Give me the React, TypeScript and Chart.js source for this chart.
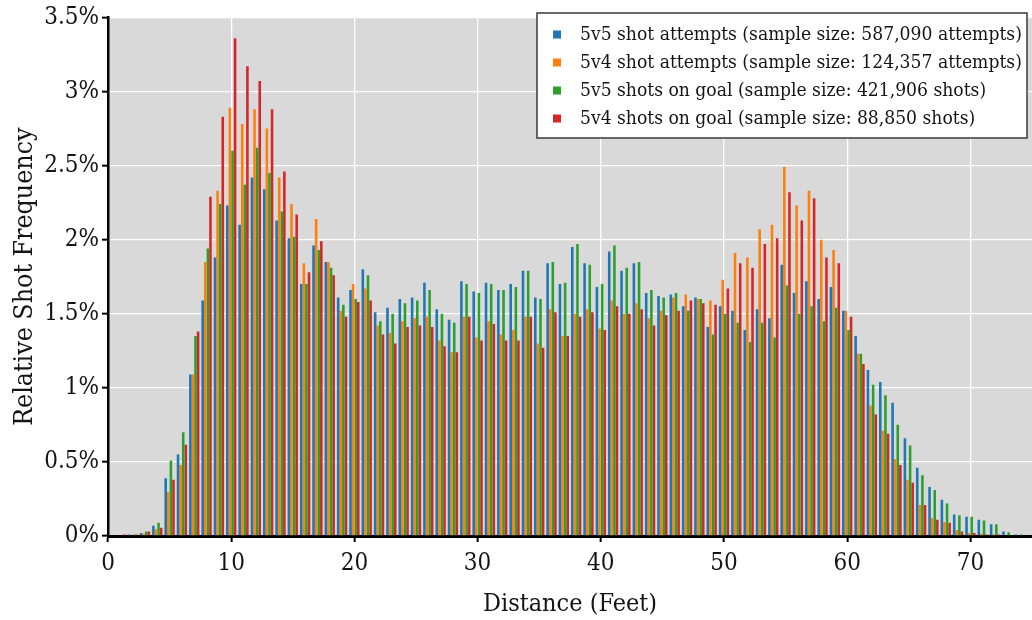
import React, { useEffect, useRef } from 'react';
import { Chart, registerables } from 'chart.js';

Chart.register(...registerables);

// Distance in feet (one group of four bars per foot)
const distances = [
  1, 2, 3, 4, 5, 6, 7, 8, 9, 10,
  11, 12, 13, 14, 15, 16, 17, 18, 19, 20,
  21, 22, 23, 24, 25, 26, 27, 28, 29, 30,
  31, 32, 33, 34, 35, 36, 37, 38, 39, 40,
  41, 42, 43, 44, 45, 46, 47, 48, 49, 50,
  51, 52, 53, 54, 55, 56, 57, 58, 59, 60,
  61, 62, 63, 64, 65, 66, 67, 68, 69, 70,
  71, 72, 73, 74,
];

// Relative frequency (%)
const attempts5v5 = [
  0.005, 0.01, 0.02, 0.07, 0.39, 0.55, 1.09, 1.59, 1.88, 2.23,
  2.10, 2.42, 2.34, 2.13, 2.01, 1.70, 1.96, 1.85, 1.61, 1.66,
  1.80, 1.51, 1.54, 1.60, 1.61, 1.71, 1.53, 1.46, 1.72, 1.65,
  1.71, 1.66, 1.70, 1.79, 1.61, 1.84, 1.70, 1.95, 1.84, 1.68,
  1.92, 1.79, 1.84, 1.64, 1.62, 1.63, 1.55, 1.61, 1.41, 1.55,
  1.52, 1.39, 1.53, 1.47, 1.83, 1.64, 1.72, 1.60, 1.68, 1.52,
  1.35, 1.12, 1.04, 0.90, 0.66, 0.46, 0.33, 0.245, 0.145, 0.13,
  0.11, 0.08, 0.03, 0.01,
];

const attempts5v4 = [
  0.005, 0.005, 0.015, 0.045, 0.295, 0.48, 1.09, 1.85, 2.33, 2.89,
  2.78, 2.88, 2.75, 2.42, 2.24, 1.84, 2.14, 1.85, 1.52, 1.70,
  1.67, 1.42, 1.37, 1.45, 1.47, 1.48, 1.32, 1.24, 1.48, 1.34,
  1.45, 1.36, 1.39, 1.48, 1.30, 1.53, 1.35, 1.50, 1.53, 1.40,
  1.59, 1.50, 1.57, 1.47, 1.52, 1.61, 1.63, 1.60, 1.59, 1.73,
  1.91, 1.88, 2.07, 2.10, 2.49, 2.23, 2.33, 2.00, 1.93, 1.52,
  1.23, 0.88, 0.71, 0.52, 0.38, 0.21, 0.12, 0.095, 0.04, 0.02,
  0.015, 0.01, 0.005, 0.0,
];

const shotsOnGoal5v5 = [
  0.005, 0.01, 0.03, 0.09, 0.51, 0.70, 1.35, 1.94, 2.24, 2.60,
  2.37, 2.62, 2.45, 2.19, 2.02, 1.70, 1.93, 1.81, 1.56, 1.60,
  1.76, 1.45, 1.50, 1.57, 1.59, 1.66, 1.50, 1.44, 1.70, 1.64,
  1.70, 1.66, 1.68, 1.79, 1.60, 1.85, 1.71, 1.97, 1.83, 1.70,
  1.96, 1.81, 1.85, 1.66, 1.61, 1.64, 1.52, 1.60, 1.36, 1.50,
  1.44, 1.31, 1.44, 1.34, 1.69, 1.50, 1.55, 1.45, 1.54, 1.39,
  1.23, 1.02, 0.95, 0.75, 0.61, 0.41, 0.31, 0.22, 0.14, 0.13,
  0.105, 0.08, 0.025, 0.01,
];

const shotsOnGoal5v4 = [
  0.01, 0.01, 0.03, 0.055, 0.38, 0.615, 1.38, 2.29, 2.83, 3.36,
  3.17, 3.07, 2.88, 2.46, 2.17, 1.78, 1.99, 1.76, 1.48, 1.58,
  1.59, 1.36, 1.30, 1.41, 1.42, 1.41, 1.28, 1.24, 1.48, 1.32,
  1.43, 1.32, 1.32, 1.48, 1.27, 1.51, 1.35, 1.48, 1.51, 1.39,
  1.55, 1.50, 1.53, 1.42, 1.49, 1.52, 1.59, 1.57, 1.56, 1.67,
  1.84, 1.81, 1.97, 2.01, 2.32, 2.13, 2.28, 1.88, 1.84, 1.48,
  1.16, 0.82, 0.69, 0.48, 0.36, 0.21, 0.11, 0.09, 0.03, 0.02,
  0.01, 0.01, 0.005, 0.0,
];

const seriesLabels = [
  '5v5 shot attempts (sample size: 587,090 attempts)',
  '5v4 shot attempts (sample size: 124,357 attempts)',
  '5v5 shots on goal (sample size: 421,906 shots)',
  '5v4 shots on goal (sample size: 88,850 shots)',
];
const seriesValues = [attempts5v5, attempts5v4, shotsOnGoal5v5, shotsOnGoal5v4];
const seriesColors = ['#1f77b4', '#ff7f0e', '#2ca02c', '#d62728'];

const xTickValues = [0, 10, 20, 30, 40, 50, 60, 70];
const yTickValues = [0, 0.5, 1, 1.5, 2, 2.5, 3, 3.5];

const FONT = "'DejaVu Serif Condensed', 'DejaVu Serif', serif";
const TEXT = '#141414';

const plotBackground = {
  id: 'plotBackground',
  beforeDraw(chart: any) {
    const { ctx, chartArea: a } = chart;
    ctx.save();
    ctx.fillStyle = '#d9d9d9';
    ctx.fillRect(a.left, a.top, a.right - a.left, a.bottom - a.top);
    ctx.restore();
  },
};

const boxedLegend = {
  id: 'boxedLegend',
  afterDraw(chart: any) {
    const ctx = chart.ctx;
    const x0 = 537;
    const y0 = 13;
    const w = 490;
    const h = 125;
    ctx.save();
    ctx.fillStyle = '#ffffff';
    ctx.fillRect(x0, y0, w, h);
    ctx.strokeStyle = '#3a3a3a';
    ctx.lineWidth = 1.5;
    ctx.strokeRect(x0, y0, w, h);
    const datasets = chart.data.datasets;
    ctx.font = `18px ${FONT}`;
    const measured = ctx.measureText(datasets[0].label).width;
    const size = (18 * 442) / measured;
    ctx.font = `${size}px ${FONT}`;
    ctx.textBaseline = 'middle';
    ctx.textAlign = 'left';
    datasets.forEach((ds: any, i: number) => {
      const cy = 34.5 + i * 28;
      ctx.fillStyle = ds.backgroundColor;
      ctx.fillRect(553, cy - 4, 8, 8);
      ctx.fillStyle = TEXT;
      ctx.fillText(ds.label, 580, cy + 1);
    });
    ctx.restore();
  },
};

export default function App() {
  const canvasRef = useRef<HTMLCanvasElement | null>(null);

  useEffect(() => {
    if (!canvasRef.current) return;
    const datasets = seriesLabels.map((label, i) => ({
      label,
      data: distances.map((d, j) => ({ x: d, y: seriesValues[i][j] })),
      backgroundColor: seriesColors[i],
      borderWidth: 0,
      categoryPercentage: 0.84,
      barPercentage: 1.0,
    }));

    const chart = new Chart(canvasRef.current, {
      type: 'bar',
      data: { datasets },
      plugins: [plotBackground, boxedLegend],
      options: {
        responsive: false,
        animation: false,
        layout: { padding: { top: 15, right: 0, left: 0, bottom: 0 } },
        plugins: {
          legend: { display: false },
          tooltip: { enabled: false },
        },
        font: { family: FONT },
        scales: {
          x: {
            type: 'linear',
            min: 0,
            max: 75,
            offset: false,
            afterBuildTicks: (s: any) => {
              s.ticks = xTickValues.map((v) => ({ value: v }));
            },
            afterFit: (s: any) => {
              s.height = 84;
            },
            ticks: {
              font: { family: FONT, size: 24 },
              color: TEXT,
              padding: 7,
              maxRotation: 0,
              autoSkip: false,
            },
            grid: {
              color: '#ffffff',
              lineWidth: 1.3,
              offset: false,
              tickColor: '#000000',
              tickLength: 6,
              tickWidth: 2,
            },
            border: { color: '#000000', width: 3 },
            title: {
              display: true,
              text: 'Distance (Feet)',
              font: { family: FONT, size: 25 },
              color: TEXT,
              padding: { top: 0, bottom: 1 },
            },
          },
          y: {
            min: 0,
            max: 3.5,
            afterBuildTicks: (s: any) => {
              s.ticks = yTickValues.map((v) => ({ value: v }));
            },
            afterFit: (s: any) => {
              s.width = 108;
            },
            ticks: {
              font: { family: FONT, size: 24 },
              color: TEXT,
              padding: 3,
              callback: (v: any) => `${v}%`,
            },
            grid: {
              color: '#ffffff',
              lineWidth: 1.3,
              tickColor: '#000000',
              tickLength: 6,
              tickWidth: 2,
            },
            border: { color: '#000000', width: 2.5 },
            title: {
              display: true,
              text: 'Relative Shot Frequency',
              font: { family: FONT, size: 26.5 },
              color: TEXT,
              padding: { top: 9, bottom: 0 },
            },
          },
        },
      } as any,
    });

    return () => chart.destroy();
  }, []);

  return (
    <div style={{ position: 'absolute', left: 0, top: 0, width: 1032, height: 620, background: '#fff' }}>
      <canvas ref={canvasRef} width={1032} height={620} style={{ display: 'block' }} />
    </div>
  );
}
